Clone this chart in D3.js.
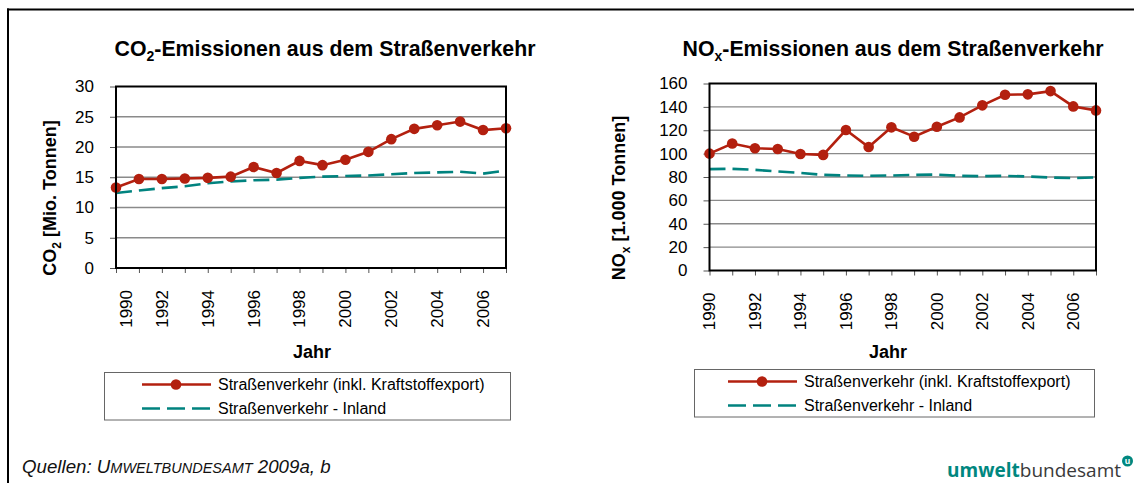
<!DOCTYPE html>
<html>
<head>
<meta charset="utf-8">
<script src="https://cdn.jsdelivr.net/npm/d3@7"></script>
<style>
  body { margin: 0; background: #fff; }
  svg { display: block; font-family: "Liberation Sans", Arial, sans-serif; }
</style>
</head>
<body>
<svg id="chart" width="1134" height="483"></svg>
<script>
// Jahre und Achsenbeschriftungen
var years = [1990, 1991, 1992, 1993, 1994, 1995, 1996, 1997, 1998, 1999,
             2000, 2001, 2002, 2003, 2004, 2005, 2006, 2007];
var yearTicks = [1990, 1992, 1994, 1996, 1998, 2000, 2002, 2004, 2006];

// CO2 [Mio. Tonnen]
var co2Total  = [13.3, 14.7, 14.7, 14.8, 14.9, 15.1, 16.7, 15.7, 17.7, 17.0,
                 17.9, 19.2, 21.3, 23.0, 23.6, 24.2, 22.8, 23.1];
var co2Inland = [12.4, 12.8, 13.2, 13.5, 14.0, 14.3, 14.5, 14.6, 14.9, 15.1,
                 15.2, 15.3, 15.5, 15.7, 15.8, 15.9, 15.6, 16.1];
var co2Ticks  = [0, 5, 10, 15, 20, 25, 30];

// NOx [1.000 Tonnen]
var noxTotal  = [100, 108.6, 104.6, 104, 99.7, 98.9, 120.2, 105.7, 122.5, 114.5,
                 123, 131, 141.3, 150.4, 150.7, 153.5, 140.4, 137];
var noxInland = [86.7, 87, 86.1, 84.7, 83.5, 81.8, 81.3, 81, 81.3, 81.8,
                 82.1, 81, 80.7, 81, 80.4, 79.6, 79, 79.6];
var noxTicks  = [0, 20, 40, 60, 80, 100, 120, 140, 160];

var legendLabels = ["Straßenverkehr (inkl. Kraftstoffexport)", "Straßenverkehr - Inland"];

var red = "#b3200f";
var teal = "#00837f";

var svg = d3.select("#chart");

// Rahmen oben und links
svg.append("line").attr("x1", 7).attr("y1", 9.5).attr("x2", 1134).attr("y2", 9.5)
    .attr("stroke", "#000").attr("stroke-width", 2);
svg.append("line").attr("x1", 8).attr("y1", 8.5).attr("x2", 8).attr("y2", 483)
    .attr("stroke", "#000").attr("stroke-width", 2);

/**
 * Zeichnet ein Diagramm mit zwei Reihen.
 */
function drawChart(cfg) {
    var g = svg.append("g");
    var x = d3.scaleLinear().domain([1990, 2007]).range([cfg.left, cfg.right]);
    var y = d3.scaleLinear().domain(cfg.domain).range([cfg.bottom, cfg.top]);

    // Titel mit tiefgestelltem Zeichen
    var title = g.append("text").attr("x", cfg.titleX).attr("y", 56)
        .attr("text-anchor", "middle").style("font-size", "21.3px").style("font-weight", "bold");
    title.append("tspan").text(cfg.titleA);
    title.append("tspan").text(cfg.titleSub).attr("dy", 5).style("font-size", "14px");
    title.append("tspan").text(cfg.titleB).attr("dy", -5);

    // Gitterlinien
    g.selectAll(".grid").data(cfg.ticks.slice(1, -1)).enter().append("line")
        .attr("x1", cfg.left).attr("x2", cfg.right)
        .attr("y1", function (d) { return y(d); }).attr("y2", function (d) { return y(d); })
        .attr("stroke", "#8a8a8a").attr("stroke-width", 1.3);

    // y-Achse
    var yAxis = d3.axisLeft(y).tickValues(cfg.ticks).tickSize(6).tickPadding(16);
    var ya = g.append("g").attr("transform", "translate(" + cfg.left + ",0)").call(yAxis);
    ya.select(".domain").remove();
    ya.selectAll("line").attr("stroke", "#555");
    ya.selectAll("text").style("font-size", "17px").attr("fill", "#000")
        .style("font-family", "'Liberation Sans', Arial, sans-serif");

    // x-Achse, Striche fuer jedes Jahr
    var xAxis = d3.axisBottom(x).tickValues(years).tickSize(5).tickFormat("");
    var xa = g.append("g").attr("transform", "translate(0," + cfg.bottom + ")").call(xAxis);
    xa.select(".domain").remove();
    xa.selectAll("line").attr("stroke", "#555");

    // Jahreszahlen gedreht
    g.selectAll(".yr").data(yearTicks).enter().append("text")
        .attr("transform", function (d, i) {
            var sx = x(d) + (i == 0 ? cfg.firstShift : 0);
            return "translate(" + sx + "," + (cfg.bottom + 22) + ") rotate(-90)";
        })
        .attr("text-anchor", "end").attr("dy", "0.35em")
        .style("font-size", "17px").text(function (d) { return d; });

    // Achsentitel
    g.append("text").attr("x", cfg.jahrX).attr("y", 358).attr("text-anchor", "middle")
        .style("font-size", "18px").style("font-weight", "bold").text("Jahr");

    var yt = g.append("text")
        .attr("transform", "translate(" + cfg.yTitleX + ",198) rotate(-90)")
        .attr("text-anchor", "middle").style("font-size", "18px").style("font-weight", "bold");
    yt.append("tspan").text(cfg.yTitleA);
    yt.append("tspan").text(cfg.titleSub).attr("dy", 5).style("font-size", "12px");
    yt.append("tspan").text(cfg.yTitleB).attr("dy", -5);

    // Linien
    var line = function (vals) {
        return d3.line().x(function (d, i) { return x(years[i]); })
            .y(function (d) { return y(d); })(vals);
    };
    g.append("path").attr("d", line(cfg.inland)).attr("fill", "none")
        .attr("stroke", teal).attr("stroke-width", 2.6).attr("stroke-dasharray", "16,7");
    g.append("path").attr("d", line(cfg.total)).attr("fill", "none")
        .attr("stroke", red).attr("stroke-width", 2.6);
    g.selectAll(".pt").data(cfg.total).enter().append("circle")
        .attr("cx", function (d, i) { return x(years[i]); })
        .attr("cy", function (d) { return y(d); })
        .attr("r", 5.3).attr("fill", red);

    // Plotrahmen
    g.append("rect").attr("x", cfg.left).attr("y", cfg.top)
        .attr("width", cfg.right - cfg.left).attr("height", cfg.bottom - cfg.top)
        .attr("fill", "none").attr("stroke", "#000").attr("stroke-width", 2);

    // Legende
    var lg = cfg.legend;
    g.append("rect").attr("x", lg.x).attr("y", lg.y).attr("width", lg.w).attr("height", lg.h)
        .attr("fill", "#fff").attr("stroke", "#666").attr("stroke-width", 1);
    var r1 = lg.y + 12, r2 = lg.y + 36;
    g.append("line").attr("x1", lg.lx).attr("x2", lg.lx + 69).attr("y1", r1).attr("y2", r1)
        .attr("stroke", red).attr("stroke-width", 2.6);
    g.append("circle").attr("cx", lg.lx + 34).attr("cy", r1).attr("r", 5.3).attr("fill", red);
    g.append("line").attr("x1", lg.lx).attr("x2", lg.lx + 69).attr("y1", r2).attr("y2", r2)
        .attr("stroke", teal).attr("stroke-width", 2.6).attr("stroke-dasharray", "18,7");
    g.append("text").attr("x", lg.lx + 76).attr("y", r1).attr("dy", "0.35em")
        .style("font-size", "16px").text(legendLabels[0]);
    g.append("text").attr("x", lg.lx + 76).attr("y", r2).attr("dy", "0.35em")
        .style("font-size", "16px").text(legendLabels[1]);
}

drawChart({
    left: 116, right: 506, top: 86.5, bottom: 268,
    domain: [0, 30], ticks: co2Ticks,
    total: co2Total, inland: co2Inland,
    titleX: 325, titleA: "CO", titleSub: "2", titleB: "-Emissionen aus dem Straßenverkehr",
    yTitleX: 56, yTitleA: "CO", yTitleB: " [Mio. Tonnen]",
    jahrX: 312, firstShift: 10,
    legend: { x: 104.5, y: 372.5, w: 406, h: 47.5, lx: 142 }
});

drawChart({
    left: 709.5, right: 1096, top: 83.5, bottom: 270.5,
    domain: [0, 160], ticks: noxTicks,
    total: noxTotal, inland: noxInland,
    titleX: 893, titleA: "NO", titleSub: "x", titleB: "-Emissionen aus dem Straßenverkehr",
    yTitleX: 625, yTitleA: "NO", yTitleB: " [1.000 Tonnen]",
    jahrX: 888, firstShift: 0,
    legend: { x: 694.5, y: 369.5, w: 400, h: 47.5, lx: 728 }
});

// Quelle
var src = svg.append("text").attr("x", 22).attr("y", 473)
    .style("font-size", "18.7px").style("font-style", "italic").attr("fill", "#111");
src.append("tspan").text("Quellen: U");
src.append("tspan").text("MWELTBUNDESAMT").style("font-size", "14.5px");
src.append("tspan").text(" 2009a, b");

// Logo
var logo = svg.append("text").attr("x", 1121).attr("y", 477).attr("text-anchor", "end")
    .style("font-family", "'Open Sans', 'Noto Sans', sans-serif").style("font-size", "19px");
logo.append("tspan").text("umwelt").style("font-weight", "bold").attr("fill", "#00877f");
logo.append("tspan").text("bundesamt").attr("fill", "#3a3a3a");
svg.append("circle").attr("cx", 1127.5).attr("cy", 461).attr("r", 5.5).attr("fill", "#00877f");
svg.append("text").attr("x", 1127.5).attr("y", 461).attr("dy", "0.32em")
    .attr("text-anchor", "middle").style("font-size", "9px").style("font-weight", "bold")
    .attr("fill", "#fff").text("u");
</script>
</body>
</html>
